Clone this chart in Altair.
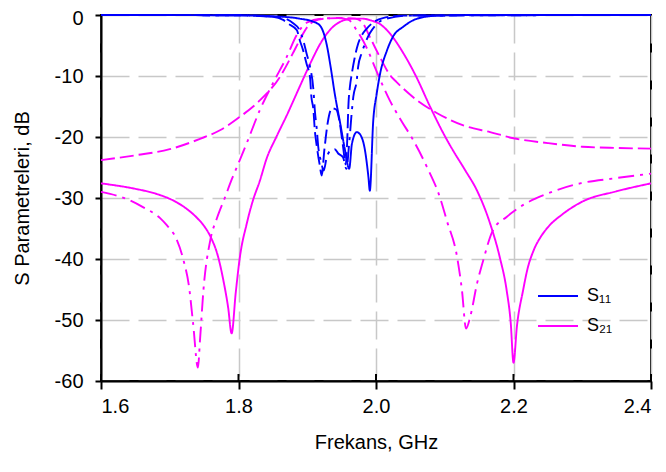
import altair as alt
import pandas as pd

# ---------------- data ----------------
# S21 (magenta) solid
s21_solid_f = [1.60, 1.65, 1.68, 1.71, 1.72, 1.74, 1.75, 1.76, 1.77, 1.778, 1.785, 1.79, 1.796, 1.802, 1.812,
               1.821, 1.831, 1.841, 1.855, 1.870, 1.89, 1.905, 1.92, 1.935, 1.95, 1.965, 1.98, 1.993,
               2.006, 2.02, 2.04, 2.058, 2.079, 2.098, 2.112, 2.13, 2.147, 2.166, 2.18, 2.19, 2.196,
               2.2, 2.205, 2.214, 2.22, 2.23, 2.24, 2.25, 2.272, 2.30, 2.35, 2.4]
s21_solid_db = [-27.6, -28.5, -29.3, -30.7, -31.4, -33.3, -34.6, -36.5, -39.5, -43.5, -48.0, -52.2, -45.5, -39.7, -34.2,
                -30.4, -27.2, -23.5, -20.0, -16.5, -11.5, -7.8, -4.5, -2.2, -1.0, -0.6, -0.6, -0.9,
                -1.5, -3.0, -6.3, -10.0, -15.1, -19.4, -22.2, -25.5, -28.8, -34.2, -39.7, -45.1, -50.5,
                -57.0, -51.0, -45.1, -41.8, -38.4, -36.3, -34.8, -32.6, -30.6, -28.9, -27.6]

# S21 dashed
s21_dash_f = [1.60, 1.65, 1.70, 1.744, 1.773, 1.802, 1.831, 1.86, 1.879, 1.889, 1.90, 1.91, 1.925, 1.95,
              1.97, 1.98, 1.991, 2.008, 2.02, 2.03, 2.06, 2.089, 2.127, 2.166, 2.2, 2.25, 2.3, 2.35, 2.4]
s21_dash_db = [-23.8, -23.0, -22.0, -20.3, -18.9, -16.7, -14.0, -10.2, -6.3, -4.1, -2.0, -1.0, -0.6, -0.5,
               -0.6, -1.2, -3.6, -7.4, -9.8, -11.0, -14.0, -16.1, -18.1, -19.2, -20.2, -21.0, -21.6, -21.8, -21.9]

# S21 dash-dot
s21_dd_f = [1.60, 1.638, 1.661, 1.686, 1.696, 1.71, 1.72, 1.728, 1.734, 1.741, 1.744, 1.749, 1.759, 1.769,
            1.78, 1.79, 1.80, 1.812, 1.831, 1.85, 1.87, 1.885, 1.90, 1.92, 1.945, 1.96, 1.972, 1.987, 2.0,
            2.02, 2.035, 2.054, 2.074, 2.093, 2.103, 2.118, 2.125, 2.131, 2.137, 2.147, 2.156, 2.17, 2.19,
            2.209, 2.249, 2.297, 2.345, 2.4]
s21_dd_db = [-29.0, -30.2, -31.5, -33.3, -34.5, -36.8, -40.2, -44.5, -50.6, -57.8, -53.3, -45.1, -36.9, -33.2,
             -30.0, -27.0, -24.3, -21.0, -15.6, -11.2, -6.9, -3.2, -1.2, -0.6, -0.5, -0.8, -2.5, -5.5, -9.0,
             -14.0, -17.0, -20.5, -24.9, -29.9, -33.7, -39.7, -45.1, -51.4, -49.5, -44.0, -40.2, -35.3, -33.1,
             -31.5, -29.3, -27.6, -26.8, -26.0]

# S11 (blue) solid
s11_solid_f = [1.60, 1.80, 1.85, 1.889, 1.909, 1.919, 1.928, 1.934, 1.94, 1.948, 1.955, 1.961, 1.965, 1.972,
               1.977, 1.984, 1.989, 1.991, 1.996, 2.001, 2.006, 2.016, 2.025, 2.04, 2.06, 2.09, 2.15, 2.4]
s11_solid_db = [0.0, -0.05, -0.2, -0.6, -1.1, -1.8, -4.7, -8.5, -12.9, -17.8, -22.2, -25.2, -21.1, -19.2,
                -19.6, -22.2, -26.6, -28.8, -17.3, -12.9, -9.6, -5.8, -3.5, -1.9, -0.6, -0.1, 0.0, 0.0]

# S11 dashed
s11_dash_f = [1.60, 1.80, 1.85, 1.865, 1.872, 1.885, 1.889, 1.894, 1.899, 1.904, 1.906, 1.909, 1.911, 1.914,
              1.918, 1.921, 1.925, 1.93, 1.936, 1.942, 1.947, 1.952, 1.956, 1.958, 1.96, 1.962, 1.965,
              1.969, 1.974, 1.979, 1.986, 1.995, 2.01, 2.04, 2.4]
s11_dash_db = [0.0, -0.05, -0.3, -0.8, -1.4, -2.5, -4.1, -5.8, -8.0, -10.2, -13.4, -15.6, -18.9, -21.6,
               -24.5, -26.3, -22.0, -17.5, -15.3, -15.5, -17.5, -21.5, -24.5, -21.0, -14.5, -11.8, -9.5,
               -7.0, -4.7, -3.4, -2.3, -1.3, -0.5, -0.1, 0.0]

# S11 dash-dot
s11_dd_f = [1.60, 1.80, 1.86, 1.88, 1.889, 1.894, 1.899, 1.904, 1.909, 1.911, 1.914, 1.916, 1.92, 1.924,
            1.928, 1.934, 1.94, 1.945, 1.952, 1.957, 1.961, 1.965, 1.967, 1.972, 1.974, 1.979, 1.984,
            1.991, 2.0, 2.015, 2.05, 2.4]
s11_dd_db = [0.0, -0.05, -0.4, -1.4, -2.5, -4.1, -6.3, -8.5, -12.3, -15.6, -18.9, -21.6, -24.0, -25.5,
             -23.5, -22.2, -22.0, -22.7, -23.3, -25.2, -21.0, -15.6, -13.4, -10.7, -8.5, -6.3, -4.7,
             -3.0, -1.6, -0.6, -0.1, 0.0]

params = ["S₁₁", "S₂₁"]
styles = ["solid", "dash", "dashdot"]
x_ticks = [1.6, 1.8, 2.0, 2.2, 2.4]
y_ticks = [-60, -50, -40, -30, -20, -10, 0]

rows = []
def add(fs, ds, param, style, order):
    for i, (a, b) in enumerate(zip(fs, ds)):
        rows.append({"f": a, "db": b, "param": param, "style": style,
                     "series": f"{order}_{param}_{style}", "i": i})

add(s21_solid_f, s21_solid_db, params[1], "solid", 1)
add(s21_dash_f, s21_dash_db, params[1], "dash", 2)
add(s21_dd_f, s21_dd_db, params[1], "dashdot", 3)
add(s11_solid_f, s11_solid_db, params[0], "solid", 4)
add(s11_dash_f, s11_dash_db, params[0], "dash", 5)
add(s11_dd_f, s11_dd_db, params[0], "dashdot", 6)
df = pd.DataFrame(rows)
tick_df = pd.DataFrame({"f": x_ticks})

FONT = "Liberation Sans"
H = 366

x_enc = alt.X("f:Q",
              scale=alt.Scale(domain=[1.6, 2.4], nice=False, zero=False),
              axis=alt.Axis(values=x_ticks, format=".1f", title="Frekans, GHz",
                            tickSize=8, labelPadding=7, titlePadding=16,
                            grid=True))

lines = alt.Chart(df).mark_line(strokeWidth=1.9, interpolate="monotone").encode(
    x=x_enc,
    y=alt.Y("db:Q",
            scale=alt.Scale(domain=[-60, 0], nice=False, zero=False),
            axis=alt.Axis(values=y_ticks, labelExpr="'' + datum.value",
                          title="S Parametreleri, dB",
                          tickSize=6, labelPadding=12,
                          labelOffset={"condition": {"test": "datum.value == 0", "value": 3},
                                       "value": 0},
                          titleX=-79, titleY=183, titleBaseline="middle",
                          grid=True)),
    color=alt.Color("param:N",
                    scale=alt.Scale(domain=params, range=["#0000FF", "#FF00FF"]),
                    legend=alt.Legend(title=None, orient="none", legendX=436, legendY=260,
                                      symbolType="stroke", symbolSize=1600, symbolStrokeWidth=2,
                                      labelFontSize=18, labelFont=FONT, labelColor="black",
                                      labelOffset=8, rowPadding=-1)),
    strokeDash=alt.StrokeDash("style:N",
                              scale=alt.Scale(domain=styles, range=[[1, 0], [14, 5], [16, 6, 3, 6]]),
                              legend=None),
    detail="series:N",
    order="i:Q",
)

# inner half of the x-axis ticks (the reference's ticks cross the axis line)
inner_ticks = alt.Chart(tick_df).mark_rule(color="black", strokeWidth=2).encode(
    x=alt.X("f:Q"),
    y=alt.value(H - 7),
    y2=alt.value(H),
)

chart = alt.layer(lines, inner_ticks).properties(
    width=550, height=H,
    autosize=alt.AutoSizeParams(type="none"),
    padding={"left": 93, "top": 7, "right": 7, "bottom": 80},
).configure_view(
    stroke="black", strokeWidth=2, fill="white"
).configure_axis(
    labelFont=FONT, titleFont=FONT, labelFontSize=20, titleFontSize=20,
    labelColor="black", titleColor="black", titleFontWeight="normal",
    domainColor="black", domainWidth=2, tickColor="black", tickWidth=2,
    gridColor="#c8c8c8", gridDash=[28, 9], gridWidth=1.5,
)

chart.save("out.html", embed_options={"renderer": "svg", "actions": False})
